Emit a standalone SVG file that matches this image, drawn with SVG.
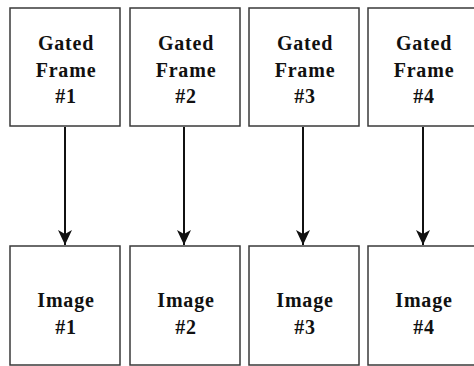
<svg xmlns="http://www.w3.org/2000/svg" width="474" height="366" viewBox="0 0 474 366">
<defs>
<style>
.box{fill:#fff;stroke:#3a3a3a;stroke-width:1.5}
.t{font-family:"Liberation Serif","Times New Roman",serif;font-weight:bold;font-size:20px;letter-spacing:0.8px;text-anchor:middle;fill:#111}
.c{stroke:#111;stroke-width:2;fill:none}
</style>
<marker id="ah" markerUnits="userSpaceOnUse" markerWidth="16" markerHeight="16" viewBox="0 0 16 16" refX="15" refY="8" orient="auto">
<path d="M0,1 L15,8 L0,15 L4,8 Z" fill="#111"/>
</marker>
</defs>
<rect width="474" height="366" fill="#fff"/>
<g id="frame1"><rect class="box" x="10" y="8" width="110" height="118"/><text class="t" x="66" y="50">Gated</text><text class="t" x="66" y="77">Frame</text><text class="t" x="66" y="103">#1</text></g>
<g id="frame2"><rect class="box" x="130" y="8" width="110" height="118"/><text class="t" x="186" y="50">Gated</text><text class="t" x="186" y="77">Frame</text><text class="t" x="186" y="103">#2</text></g>
<g id="frame3"><rect class="box" x="249" y="8" width="110" height="118"/><text class="t" x="305" y="50">Gated</text><text class="t" x="305" y="77">Frame</text><text class="t" x="305" y="103">#3</text></g>
<g id="frame4"><rect class="box" x="368" y="8" width="110" height="118"/><text class="t" x="424" y="50">Gated</text><text class="t" x="424" y="77">Frame</text><text class="t" x="424" y="103">#4</text></g>
<g id="image1"><rect class="box" x="10" y="246" width="110" height="119"/><text class="t" x="66" y="307">Image</text><text class="t" x="66" y="334">#1</text></g>
<g id="image2"><rect class="box" x="130" y="246" width="110" height="119"/><text class="t" x="186" y="307">Image</text><text class="t" x="186" y="334">#2</text></g>
<g id="image3"><rect class="box" x="249" y="246" width="110" height="119"/><text class="t" x="305" y="307">Image</text><text class="t" x="305" y="334">#3</text></g>
<g id="image4"><rect class="box" x="368" y="246" width="110" height="119"/><text class="t" x="424" y="307">Image</text><text class="t" x="424" y="334">#4</text></g>
<g id="connectors">
<line class="c" x1="65" y1="127" x2="65" y2="245" marker-end="url(#ah)"/>
<line class="c" x1="184" y1="127" x2="184" y2="245" marker-end="url(#ah)"/>
<line class="c" x1="303" y1="127" x2="303" y2="245" marker-end="url(#ah)"/>
<line class="c" x1="423" y1="127" x2="423" y2="245" marker-end="url(#ah)"/>
</g>
</svg>
